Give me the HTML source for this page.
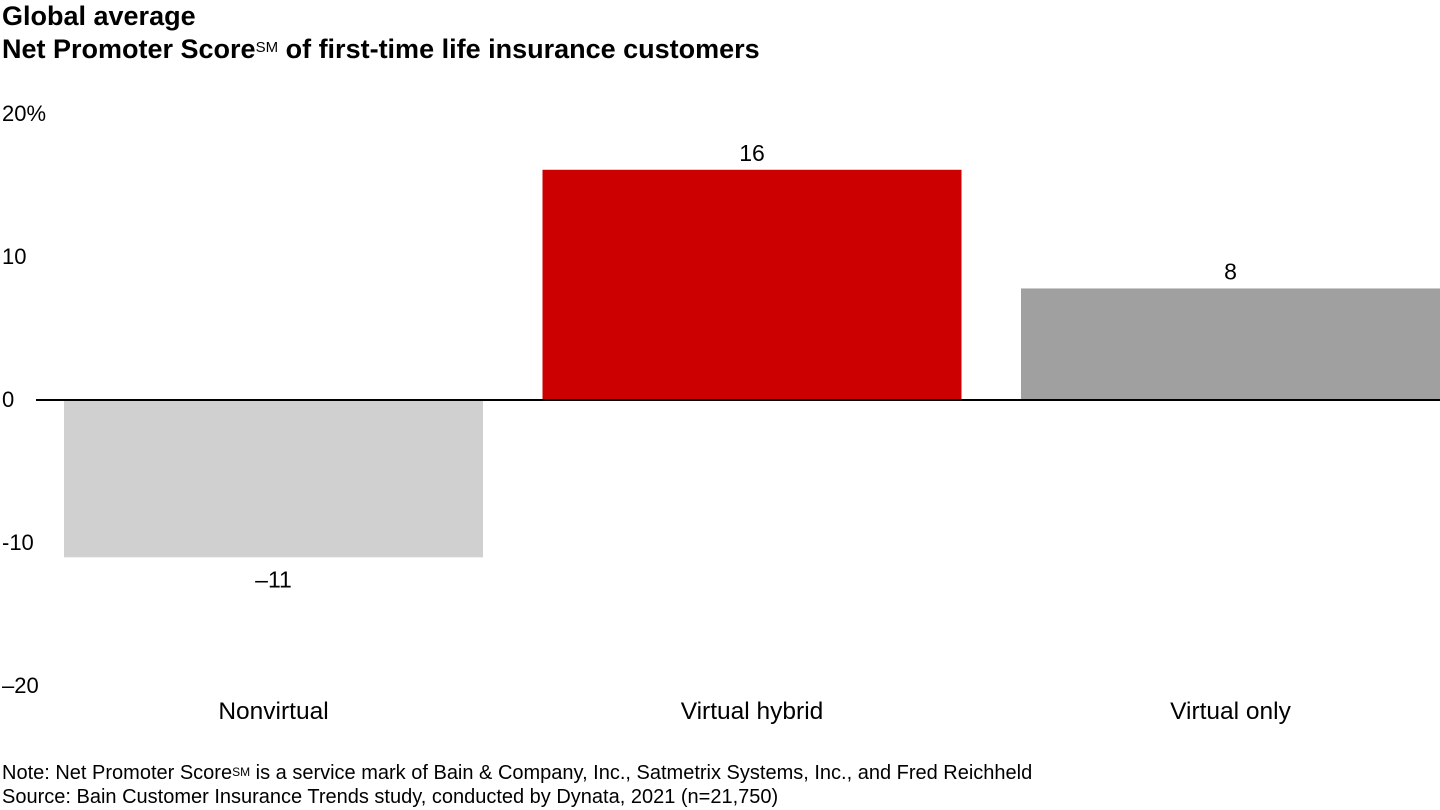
<!DOCTYPE html>
<html><head><meta charset="utf-8">
<style>
body{margin:0;width:1440px;height:810px;background:#fff;font-family:"Liberation Sans",Arial,sans-serif;overflow:hidden;position:relative}
.t{position:absolute;left:2px;font-weight:bold;font-size:27px;line-height:31px;color:#000;white-space:nowrap}
.n{position:absolute;left:2px;font-size:20px;line-height:23px;color:#000;white-space:nowrap}
.t sup{font-size:15px;font-weight:normal;vertical-align:top;position:relative;top:-2px}
.n sup{font-size:12px;vertical-align:top;position:relative;top:-1px}
</style></head><body>
<div class="t" style="top:1px">Global average</div>
<div class="t" style="top:34px">Net Promoter Score<sup>SM</sup> of first-time life insurance customers</div>
<svg id="chart" width="1440" height="810" style="position:absolute;left:0;top:0"></svg>
<div class="n" style="top:762px">Note: Net Promoter Score<sup>SM</sup> is a service mark of Bain &amp; Company, Inc., Satmetrix Systems, Inc., and Fred Reichheld</div>
<div class="n" style="top:786px">Source: Bain Customer Insurance Trends study, conducted by Dynata, 2021 (n=21,750)</div>
<script>
const categories=["Nonvirtual","Virtual hybrid","Virtual only"];
const values=[-11,16.1,7.8];
const valueLabels=["–11","16","8"];
const colors=["#d0d0d0","#cc0000","#a0a0a0"];
const tickValues=[20,10,0,-10,-20];
const tickLabels=["20%","10","0","-10","–20"];
const NS="http://www.w3.org/2000/svg";
const svg=document.getElementById("chart");
const y=v=>400-v*14.3;
const bandX=i=>64+i*478.5, bw=419;
function mk(tag,attrs,txt){const e=document.createElementNS(NS,tag);for(const k in attrs)e.setAttribute(k,attrs[k]);if(txt!=null)e.textContent=txt;svg.appendChild(e);return e;}
tickValues.forEach((v,i)=>{
 const e=mk("text",{x:2,y:y(v)+7,"font-size":22,"font-family":"Liberation Sans, sans-serif"},tickLabels[i]);
 
 
});
values.forEach((v,i)=>{
 const x=bandX(i);
 const r=mk("rect",{x:x,y:Math.min(y(v),y(0)),width:bw,height:Math.abs(y(v)-y(0)),fill:colors[i]});
 
 
 const ly=v>=0?y(v)-9:y(v)+30;
 const t=mk("text",{x:x+bw/2,y:ly,"text-anchor":"middle","font-size":23,"font-family":"Liberation Sans, sans-serif"},valueLabels[i]);
 
 
 const c=mk("text",{x:x+bw/2,y:719,"text-anchor":"middle","font-size":24.5,"font-family":"Liberation Sans, sans-serif"},categories[i]);
 
 
});
const z=mk("line",{x1:36,x2:1440,y1:y(0),y2:y(0),stroke:"#000","stroke-width":2});


</script>
</body></html>
